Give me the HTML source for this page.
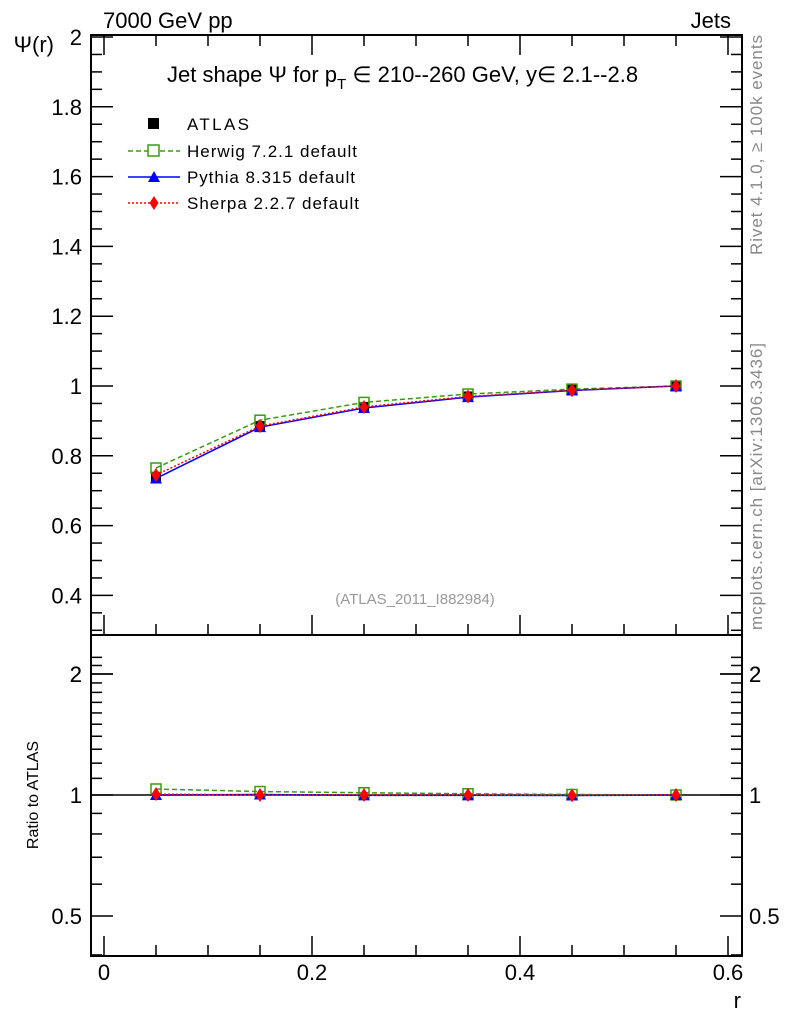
<!DOCTYPE html>
<html><head><meta charset="utf-8"><style>
body{margin:0;background:#fff;}
svg{display:block;font-family:"Liberation Sans",sans-serif;}
</style></head><body>
<svg id="s" width="786" height="1024" viewBox="0 0 786 1024" xmlns="http://www.w3.org/2000/svg"></svg>
<script>
const s=document.getElementById('s');let h='';
const L=91,R=742,T=35,MB=635,RB=956;
const X=r=>104+1040*r;
const Y=v=>386-(v-1)*349;
const YR=v=>795-121*Math.log2(v);
h+=`<rect x="${L}" y="${T}" width="${R-L}" height="${RB-T}" fill="none" stroke="#000" stroke-width="2"/>`;
h+=`<line x1="${L}" y1="${MB}" x2="${R}" y2="${MB}" stroke="#000" stroke-width="2"/>`;
for(let i=0;i<=40;i++){let v=0.3+i*0.05;v=Math.round(v*100)/100;const y=Y(v);if(y<T||y>MB)continue;
 const maj=Math.abs(v*5-Math.round(v*5))<1e-6;const l=maj?22:11;
 h+=`<line x1="${L}" y1="${y}" x2="${L+l}" y2="${y}" stroke="#000" stroke-width="1.5"/><line x1="${R}" y1="${y}" x2="${R-l}" y2="${y}" stroke="#000" stroke-width="1.5"/>`;
 if(maj&&v>=0.4)h+=`<text x="${L-9}" y="${y+8}" font-size="22" text-anchor="end">${+v.toFixed(1)}</text>`;}
for(let i=0;i<=12;i++){const r=i*0.05,x=X(r);if(x>R)continue;const maj=i%4==0;const l=maj?20:11;
 for(const yb of [MB,RB]){h+=`<line x1="${x}" y1="${yb}" x2="${x}" y2="${yb-l}" stroke="#000" stroke-width="1.5"/>`;}
 h+=`<line x1="${x}" y1="${T}" x2="${x}" y2="${T+l}" stroke="#000" stroke-width="1.5"/>`;
 if(maj)h+=`<text x="${x}" y="980" font-size="22" text-anchor="middle">${i==0?'0':(r).toFixed(1)}</text>`;}
const rt=[0.4,0.5,0.6,0.7,0.8,0.9,1,2];for(let k=11;k<23;k++)rt.push(k/10);
for(const v of rt){const y=YR(v);if(y<MB||y>RB)continue;const maj=[0.5,1,2].some(m=>Math.abs(m-v)<1e-6);const l=maj?22:11;
 h+=`<line x1="${L}" y1="${y}" x2="${L+l}" y2="${y}" stroke="#000" stroke-width="1.5"/><line x1="${R}" y1="${y}" x2="${R-l}" y2="${y}" stroke="#000" stroke-width="1.5"/>`;
 if(maj){h+=`<text x="${L-9}" y="${y+8}" font-size="22" text-anchor="end">${v}</text><text x="${R+7}" y="${y+8}" font-size="22">${v}</text>`;}}
h+=`<line x1="${L}" y1="795" x2="${R}" y2="795" stroke="#000" stroke-width="1.5"/>`;
const rs=[0.05,0.15,0.25,0.35,0.45,0.55];
const A=[0.740,0.885,0.940,0.970,0.990,1.0];
const Hw=[0.765,0.902,0.953,0.977,0.991,1.0];
const Py=[0.735,0.882,0.937,0.968,0.987,1.0];
const Sh=[0.745,0.885,0.940,0.970,0.988,1.0];
const Hr=[1.035,1.02,1.013,1.007,1.003,1.0],Pr=[1.0,1.003,0.998,0.998,0.997,1.0],Sr=[1.005,1.0,1.0,1.0,0.998,1.0];
function line(d,yf,col,dash){return `<polyline points="${rs.map((r,i)=>X(r)+','+yf(d[i])).join(' ')}" fill="none" stroke="${col}" stroke-width="1.5" ${dash?`stroke-dasharray="${dash}"`:''}/>`;}
function mk(d,yf,type){let o='';rs.forEach((r,i)=>{const x=X(r),y=yf(d[i]);
 if(type=='sq')o+=`<rect x="${x-5}" y="${y-5}" width="10" height="10" fill="#000"/>`;
 if(type=='osq')o+=`<rect x="${x-5}" y="${y-5}" width="10" height="10" fill="none" stroke="#3a9a10" stroke-width="1.5"/>`;
 if(type=='tri')o+=`<polygon points="${x},${y-6} ${x-6},${y+5} ${x+6},${y+5}" fill="#00f"/>`;
 if(type=='dia')o+=`<polygon points="${x},${y-7} ${x-4.5},${y} ${x},${y+7} ${x+4.5},${y}" fill="#f00"/>`;});return o;}
h+=mk(A,Y,'sq');
h+=line(Hw,Y,'#3a9a10','5,3')+mk(Hw,Y,'osq');
h+=line(Py,Y,'#00f')+mk(Py,Y,'tri');
h+=line(Sh,Y,'#f00','2,2')+mk(Sh,Y,'dia');
h+=line(Hr,YR,'#3a9a10','5,3')+mk(Hr,YR,'osq');
h+=line(Pr,YR,'#00f')+mk(Pr,YR,'tri');
h+=line(Sr,YR,'#f00','2,2')+mk(Sr,YR,'dia');
const ly=[124,151,177,203];
h+=`<rect x="148" y="${ly[0]-6}" width="11" height="11" fill="#000"/>`;
h+=`<line x1="128" y1="${ly[1]}" x2="180" y2="${ly[1]}" stroke="#3a9a10" stroke-width="1.5" stroke-dasharray="5,3"/><rect x="148" y="${ly[1]-6}" width="11" height="11" fill="#fff" stroke="#3a9a10" stroke-width="1.5"/>`;
h+=`<line x1="128" y1="${ly[2]}" x2="180" y2="${ly[2]}" stroke="#00f" stroke-width="1.5"/><polygon points="154,${ly[2]-6} 148,${ly[2]+5} 160,${ly[2]+5}" fill="#00f"/>`;
h+=`<line x1="128" y1="${ly[3]}" x2="180" y2="${ly[3]}" stroke="#f00" stroke-width="1.5" stroke-dasharray="2,2"/><polygon points="154,${ly[3]-7} 149.5,${ly[3]} 154,${ly[3]+7} 158.5,${ly[3]}" fill="#f00"/>`;
const lt=['ATLAS','Herwig 7.2.1 default','Pythia 8.315 default','Sherpa 2.2.7 default'];
lt.forEach((t,i)=>h+=`<text x="187" y="${ly[i]+6}" font-size="17" textLength="${[62,170,168,172][i]}">${t}</text>`);
h+=`<text x="103" y="28" font-size="22">7000 GeV pp</text>`;
h+=`<text x="731" y="28" font-size="22" text-anchor="end">Jets</text>`;
h+=`<text x="167" y="82" font-size="22">Jet shape Ψ for p<tspan font-size="15" dy="7">T</tspan><tspan dy="-7"> ∈ 210--260 GeV, y∈ 2.1--2.8</tspan></text>`;
h+=`<text x="415" y="604" font-size="15" fill="#999" text-anchor="middle">(ATLAS_2011_I882984)</text>`;
h+=`<text x="54" y="52" font-size="22" text-anchor="end">Ψ(r)</text>`;
h+=`<text transform="translate(38,795) rotate(-90)" font-size="16" text-anchor="middle">Ratio to ATLAS</text>`;
h+=`<text x="741" y="1008" font-size="22" text-anchor="end">r</text>`;
h+=`<text transform="translate(762,35) rotate(-90)" font-size="17" fill="#888" text-anchor="end" textLength="220">Rivet 4.1.0, ≥ 100k events</text>`;
h+=`<text transform="translate(762,343) rotate(-90)" font-size="17" fill="#888" text-anchor="end" textLength="287">mcplots.cern.ch [arXiv:1306.3436]</text>`;
s.innerHTML=h;
</script>
</body></html>
